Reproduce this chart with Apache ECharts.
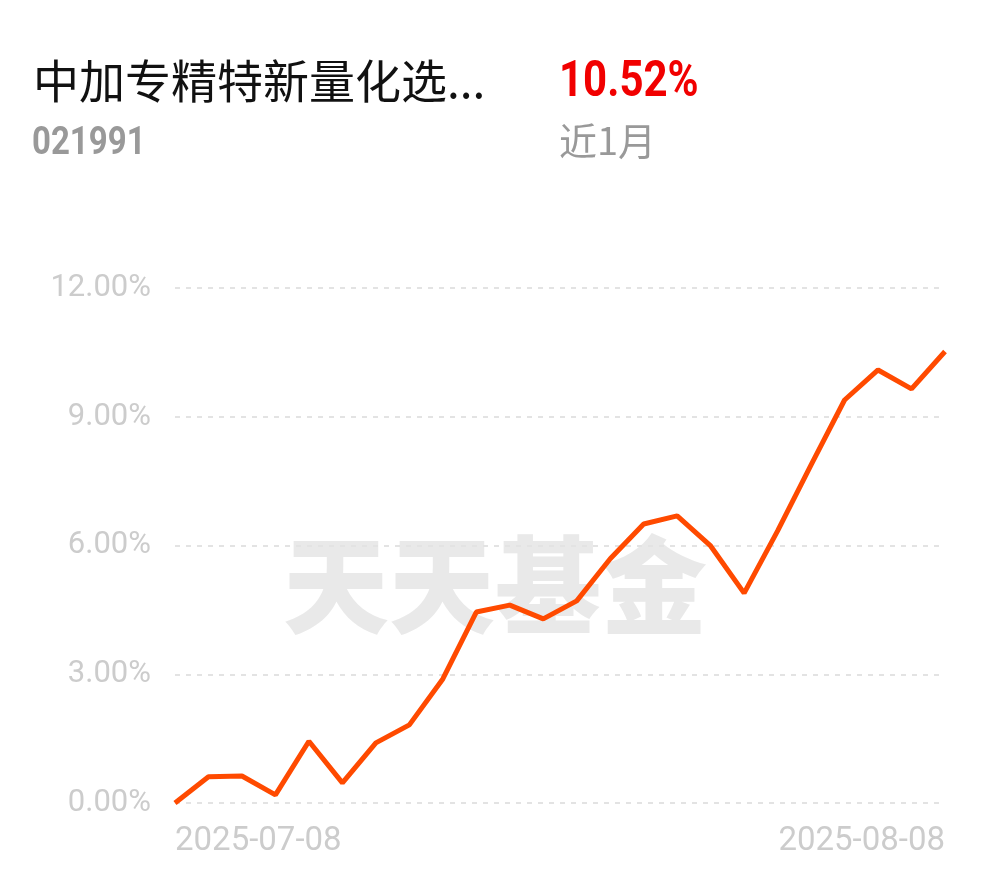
<!DOCTYPE html>
<html>
<head>
<meta charset="utf-8">
<script src="https://cdn.jsdelivr.net/npm/echarts@6/dist/echarts.min.js"></script>
<style>
html,body{margin:0;padding:0;background:#fff;}
#c{width:990px;height:878px;}
</style>
</head>
<body>
<div id="c"></div>
<script>
const fundName = "中加专精特新量化选...";
const fundCode = "021991";
const periodReturn = "10.52%";
const periodLabel = "近1月";
const dates = ["2025-07-08","2025-07-09","2025-07-10","2025-07-11","2025-07-14","2025-07-15","2025-07-16","2025-07-17","2025-07-18","2025-07-21","2025-07-22","2025-07-23","2025-07-24","2025-07-25","2025-07-28","2025-07-29","2025-07-30","2025-07-31","2025-08-01","2025-08-04","2025-08-05","2025-08-06","2025-08-07","2025-08-08"];
const returns = [0, 0.61, 0.63, 0.19, 1.44, 0.47, 1.40, 1.82, 2.89, 4.45, 4.61, 4.29, 4.71, 5.69, 6.50, 6.69, 5.99, 4.89, 6.34, 7.88, 9.39, 10.09, 9.65, 10.52];
const yTicks = [0, 3, 6, 9, 12];

const chart = echarts.init(document.getElementById('c'));
const last = dates.length - 1;
chart.setOption({
  animation: false,
  backgroundColor: '#fff',
  graphic: [
    {type:'text', left:33, top:58, style:{text:fundName, font:'400 46px "Noto Sans CJK SC", sans-serif', fill:'#111'}},
    {type:'text', left:32, top:126, scaleY:1.15, style:{text:fundCode, font:'700 33px Roboto, "Noto Sans", sans-serif', fill:'#999'}},
    {type:'text', left:559, top:58, scaleY:1.2, style:{text:periodReturn, font:'700 42px Roboto, "Noto Sans", sans-serif', fill:'#f10000'}},
    {type:'text', left:559, top:122, style:{text:periodLabel, font:'400 38px "Noto Sans CJK SC", sans-serif', fill:'#999'}},
    {type:'text', left:283, top:532, z:0, style:{text:'天天基金', font:'900 106px "Noto Sans CJK SC", sans-serif', fill:'#e9e9e9'}}
  ],
  grid: {left:175, right:45, top:288, bottom:75, containLabel:false},
  xAxis: {
    type:'category', data:dates, boundaryGap:false,
    axisLine:{show:false}, axisTick:{show:false},
    axisLabel:{
      interval:(i)=> i===0 || i===last,
      color:'#cccccc', fontSize:33, fontFamily:'Roboto, sans-serif', margin:22,
      alignMinLabel:'left', alignMaxLabel:'right'
    }
  },
  yAxis: {
    type:'value', min:yTicks[0], max:yTicks[yTicks.length-1], interval:3,
    axisLine:{show:false}, axisTick:{show:false},
    axisLabel:{formatter:(v)=>v.toFixed(2)+'%', color:'#cccccc', fontSize:31, fontFamily:'Roboto, sans-serif', margin:24},
    splitLine:{lineStyle:{color:'#e3e3e3', type:[5,6], width:2}}
  },
  series: [{
    type:'line', data:returns, symbol:'none', z:5,
    lineStyle:{color:'#ff4a00', width:5}
  }]
});
</script>
</body>
</html>
